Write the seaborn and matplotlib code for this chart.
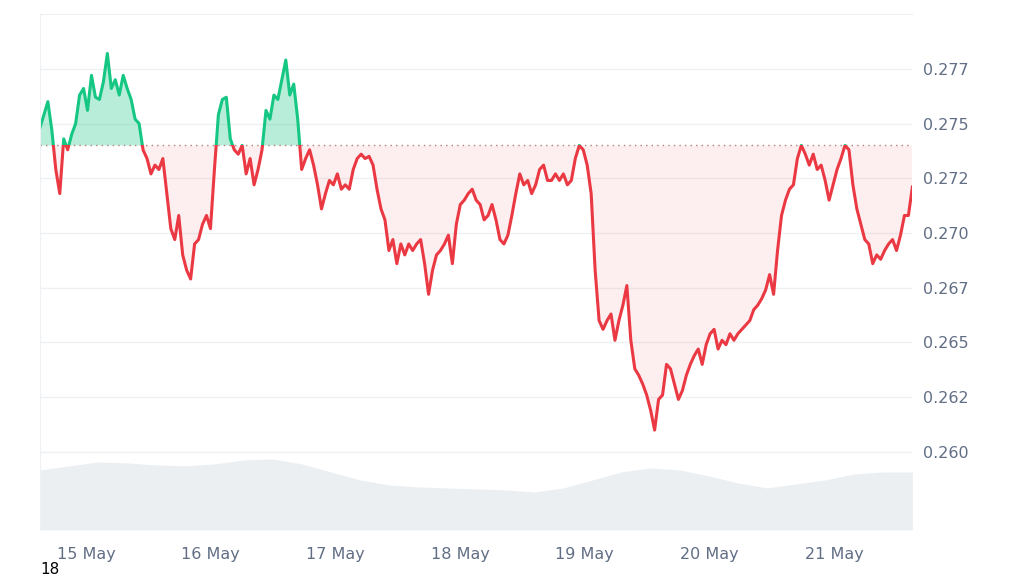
import matplotlib
matplotlib.use("Agg")
import matplotlib.pyplot as plt
from matplotlib.patches import Rectangle
import seaborn as sns
import numpy as np
import pandas as pd

# price, evenly spaced over the 7-day window
prices = [
    .2748, .2754, .2760, .2747, .2729, .2718, .2743, .2738, .2745, .2750, .2763, .2766, .2756, .2772,
    .2762, .2761, .2769, .2782, .2766, .2770, .2763, .2772, .2766, .2761, .2752, .2750, .2738, .2734,
    .2727, .2731, .2729, .2734, .2718, .2702, .2697, .2708, .2690, .2683, .2679, .2695, .2697, .2704,
    .2708, .2702, .2729, .2754, .2761, .2762, .2743, .2738, .2736, .2740, .2727, .2734, .2722, .2729,
    .2738, .2756, .2752, .2763, .2761, .2770, .2779, .2763, .2768, .2752, .2729, .2734, .2738, .2731,
    .2722, .2711, .2718, .2724, .2722, .2727, .2720, .2722, .2720, .2729, .2734, .2736, .2734, .2735,
    .2731, .2720, .2711, .2706, .2692, .2697, .2686, .2695, .2690, .2695, .2692, .2695, .2697, .2686,
    .2672, .2683, .2690, .2692, .2695, .2699, .2686, .2704, .2713, .2715, .2718, .2720, .2715, .2713,
    .2706, .2708, .2713, .2706, .2697, .2695, .2699, .2708, .2718, .2727, .2722, .2724, .2718, .2722,
    .2729, .2731, .2724, .2724, .2727, .2724, .2727, .2722, .2724, .2734, .2740, .2738, .2731, .2718,
    .2683, .2660, .2656, .2660, .2663, .2651, .2660, .2667, .2676, .2651, .2638, .2635, .2631, .2626,
    .2619, .2610, .2624, .2626, .2640, .2638, .2631, .2624, .2628, .2635, .2640, .2644, .2647, .2640,
    .2649, .2654, .2656, .2647, .2651, .2649, .2654, .2651, .2654, .2656, .2658, .2660, .2665, .2667,
    .2670, .2674, .2681, .2672, .2692, .2708, .2715, .2720, .2722, .2734, .2740, .2736, .2731, .2736,
    .2729, .2731, .2724, .2715, .2722, .2729, .2734, .2740, .2738, .2722, .2711, .2704, .2697, .2695,
    .2686, .2690, .2688, .2692, .2695, .2697, .2692, .2699, .2708, .2708, .2721,
]
baseline = 0.2740

# trading volume (relative units), evenly spaced
volume = [60, 64, 68, 67, 65, 64, 66, 70, 71, 66, 58, 50, 45, 43, 42, 41, 40, 38, 42, 50, 58, 62,
          60, 54, 47, 42, 46, 50, 56, 58, 58]

day_labels = ["15 May", "16 May", "17 May", "18 May", "19 May", "20 May", "21 May"]
tick_values = [0.2600, 0.2625, 0.2650, 0.2675, 0.2700, 0.2725, 0.2750, 0.2775]
tick_labels = ["0.260", "0.262", "0.265", "0.267", "0.270", "0.272", "0.275", "0.277"]

start_h, end_h = -8.9, 159.1  # hours relative to 15 May 00:00
df = pd.DataFrame({"hour": np.linspace(start_h, end_h, len(prices)), "price": prices})
vol_df = pd.DataFrame({"hour": np.linspace(start_h, end_h, len(volume)), "volume": volume})

green, red = "#16c784", "#ea3943"

fig = plt.figure(figsize=(10.24, 5.76), dpi=100, facecolor="white")
ax = fig.add_axes([0.039, 0.080, 0.852, 0.896])
ax.set_xlim(start_h, end_h)
ax.set_ylim(0.25644, 0.28001)

# volume on a twin axis so it sits at the bottom
vax = ax.twinx()
vax.fill_between(vol_df["hour"], 0, vol_df["volume"], color="#eceff2", lw=0, zorder=0)
vax.set_ylim(0, 516)
vax.set_axis_off()
ax.set_zorder(vax.get_zorder() + 1)
ax.patch.set_visible(False)

for v in tick_values:
    ax.axhline(v, color="#eef0f3", lw=1, zorder=0)

x, y = df["hour"].values, df["price"].values
ax.fill_between(x, baseline, y, where=y >= baseline, interpolate=True, color=green, alpha=0.3, lw=0)
ax.fill_between(x, baseline, y, where=y <= baseline, interpolate=True, color=red, alpha=0.08, lw=0)

sns.lineplot(data=df, x="hour", y="price", ax=ax, color=green, lw=2.2)
sns.lineplot(data=df, x="hour", y="price", ax=ax, color=red, lw=2.2)
up, down = ax.lines[-2], ax.lines[-1]
up.set_clip_path(Rectangle((start_h, baseline), end_h - start_h, 1, transform=ax.transData))
down.set_clip_path(Rectangle((start_h, 0), end_h - start_h, baseline, transform=ax.transData))

ax.axhline(baseline, color="#b08080", lw=1, ls=(0, (1, 3)), zorder=1)

ax.set_xticks([24 * i for i in range(7)])
ax.set_xticklabels(day_labels)
ax.yaxis.tick_right()
ax.set_yticks(tick_values)
ax.set_yticklabels(tick_labels)
ax.tick_params(length=0, colors="#616e85", labelsize=11.5, pad=8)
ax.tick_params(axis="x", pad=12)
ax.set_xlabel("")
ax.set_ylabel("")
for side in ["right", "bottom"]:
    ax.spines[side].set_visible(False)
for side in ["top", "left"]:
    ax.spines[side].set_color("#eef0f3")

fig.text(0.039, 0.003, "18", fontsize=11, color="black")
fig.savefig("out.png", dpi=100)
